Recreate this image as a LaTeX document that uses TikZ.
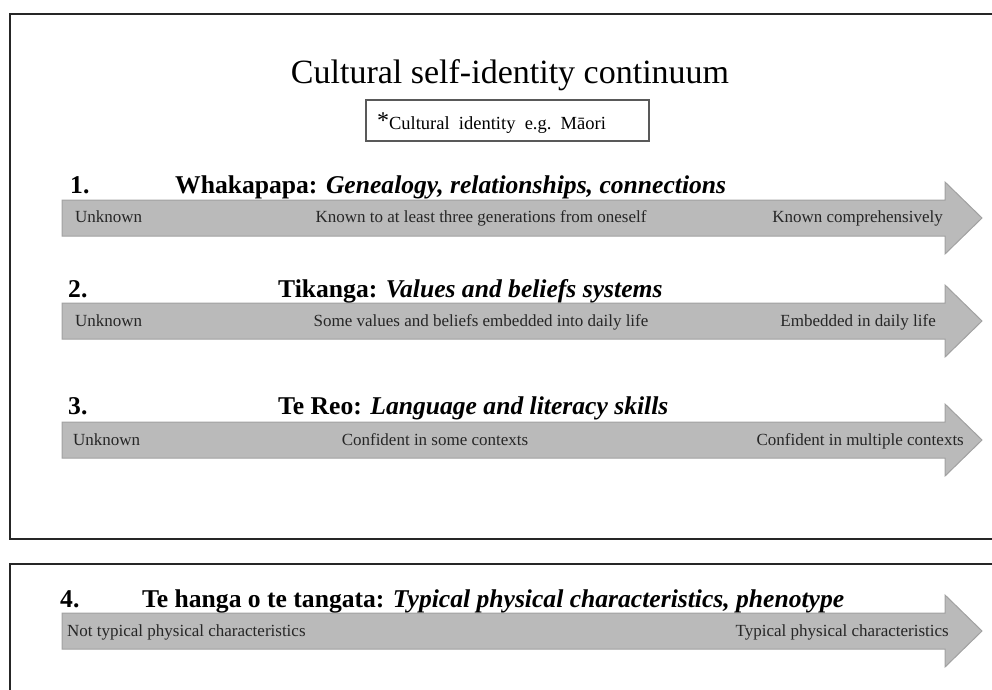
\documentclass[tikz,border=0pt]{standalone}
\usepackage{fontspec}
\setmainfont{Liberation Serif}
\begin{document}
\begin{tikzpicture}[x=1pt,y=-1pt,
  frame/.style={draw=black!85,line width=2pt},
  subbox/.style={draw=black!65,line width=1.3pt},
  barrow/.style={fill=black!27,draw=black!37,line width=1pt},
  heading/.style={anchor=base west,inner sep=0pt,font=\fontsize{25.6}{30}\selectfont\bfseries},
  lbl/.style={inner sep=0pt,font=\fontsize{17}{20}\selectfont,text=black!85},
]
\useasboundingbox (0,0) rectangle (992,689);
% frames
\draw[frame] (10,14) rectangle (1005,539);
\draw[frame] (10,564) rectangle (1005,700);
% title
\node[anchor=base,inner sep=0pt,font=\fontsize{34}{40}\selectfont] (title) at (510,83) {Cultural self-identity continuum};
\draw[subbox] (366,100) rectangle (649,141);
\node[anchor=base,inner sep=0pt,font=\fontsize{18.5}{22}\selectfont] (sub) at (491.5,129) {\raisebox{1pt}{\fontsize{24}{26}\selectfont *}Cultural\ \ identity\ \ e.g.\ \ Māori};
% arrows: body center
\foreach \c in {218,321,440,631}{
  \draw[barrow] (62,\c-18) -- (945,\c-18) -- (945,\c-36) -- (982,\c) -- (945,\c+36) -- (945,\c+18) -- (62,\c+18) -- cycle;
}
% headings
\node[heading] (n1) at (70,193) {1.};
\node[heading] (h1) at (175,193) {Whakapapa: \textit{Genealogy, relationships, connections}};
\node[heading] (n2) at (68,297) {2.};
\node[heading] (h2) at (278,297) {Tikanga: \textit{Values and beliefs systems}};
\node[heading] (n3) at (68,414) {3.};
\node[heading] (h3) at (278,414) {Te Reo: \textit{Language and literacy skills}};
\node[heading] (n4) at (60,607) {4.};
\node[heading] (h4) at (142,607) {Te hanga o te tangata: \textit{Typical physical characteristics, phenotype}};
% labels
\node[lbl,anchor=base west] (l1a) at (75,222) {Unknown};
\node[lbl,anchor=base] (l1b) at (481,222) {Known to at least three generations from oneself};
\node[lbl,anchor=base east] (l1c) at (943,222) {Known comprehensively};
\node[lbl,anchor=base west] (l2a) at (75,326) {Unknown};
\node[lbl,anchor=base] (l2b) at (481,326) {Some values and beliefs embedded into daily life};
\node[lbl,anchor=base east] (l2c) at (936,326) {Embedded in daily life};
\node[lbl,anchor=base west] (l3a) at (73,445) {Unknown};
\node[lbl,anchor=base] (l3b) at (435,445) {Confident in some contexts};
\node[lbl,anchor=base east] (l3c) at (964,445) {Confident in multiple contexts};
\node[lbl,anchor=base west] (l4a) at (67,636) {Not typical physical characteristics};
\node[lbl,anchor=base east] (l4c) at (949,636) {Typical physical characteristics};
\end{tikzpicture}
\end{document}
